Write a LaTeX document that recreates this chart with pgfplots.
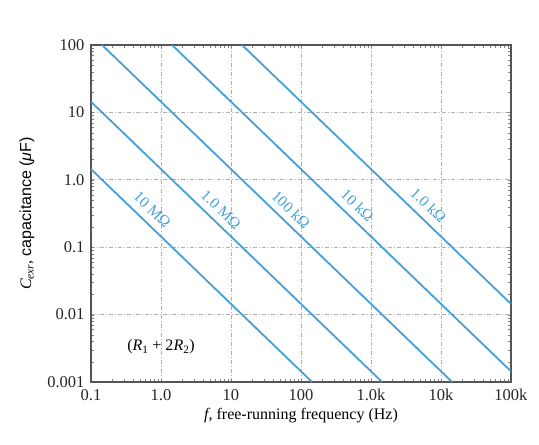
\documentclass[border=0pt]{standalone}
\usepackage{pgfplots}
\pgfplotsset{compat=1.18}
\usepackage{fontspec}
\setmainfont{Liberation Serif}
\setsansfont{Liberation Sans}
\definecolor{lineblue}{RGB}{70,160,215}
\definecolor{framegray}{RGB}{85,85,85}
\definecolor{gridgray}{RGB}{175,175,175}

\begin{document}
\begin{tikzpicture}
\fontsize{16}{19}\selectfont
\begin{axis}[
  scale only axis,
  width=420pt, height=337pt,
  xmode=log, ymode=log,
  xmin=0.1, xmax=100000,
  ymin=0.001, ymax=100,
  xtick={0.1,1,10,100,1000,10000,100000},
  xticklabels={0.1,1.0,10,100,1.0k,10k,100k},
  ytick={0.001,0.01,0.1,1,10,100},
  yticklabels={0.001,0.01,0.1,1.0,10,100},
  minor xtick={}, minor ytick={},
  major tick length=0pt,
  tick label style={font=\fontsize{16.5}{19}\selectfont, text=black!85},
  /pgf/number format/assume math mode=true,
  xticklabel style={yshift=-2pt},
  yticklabel style={xshift=-1pt},
  grid=major,
  major grid style={gridgray, dash pattern=on 4pt off 2pt on 1pt off 2pt, line width=0.8pt},
  axis line style={framegray, line width=1.4pt},
  xlabel={\fontsize{16}{19}\selectfont\textit{f}, free-running frequency (Hz)},
  ylabel={\fontsize{16}{19}\selectfont\textit{C}\textsubscript{\textit{exr}}, \sffamily capacitance (\textit{μ}F)},
  xlabel style={yshift=4pt},
  ylabel style={yshift=2pt},
  clip=true,
]
% 10 MOhm
\addplot[lineblue, line width=1.8pt] coordinates {(0.1,1.44) (144,0.001)};
% 1.0 MOhm
\addplot[lineblue, line width=1.8pt] coordinates {(0.1,14.4) (1440,0.001)};
% 100 kOhm
\addplot[lineblue, line width=1.8pt] coordinates {(0.144,100) (14400,0.001)};
% 10 kOhm
\addplot[lineblue, line width=1.8pt] coordinates {(1.44,100) (100000,0.00144)};
% 1.0 kOhm
\addplot[lineblue, line width=1.8pt] coordinates {(14.4,100) (100000,0.0144)};

\begin{scope}[every node/.style={text=lineblue, rotate=-43.7, font=\fontsize{15.5}{18}\selectfont}]
\node at (axis cs:0.75,0.36) {10 MΩ};
\node at (axis cs:7.2,0.36) {1.0 MΩ};
\node at (axis cs:72,0.36) {100 kΩ};
\node at (axis cs:640,0.42) {10 kΩ};
\node at (axis cs:6600,0.42) {1.0 kΩ};
\end{scope}
\node[font=\fontsize{16}{19}\selectfont] at (axis cs:1.0,0.0033) {(\textit{R}\textsubscript{1} + 2\textit{R}\textsubscript{2})};
\end{axis}
\useasboundingbox (-91pt,-63pt) rectangle (448pt,382pt);
\end{tikzpicture}
\end{document}
